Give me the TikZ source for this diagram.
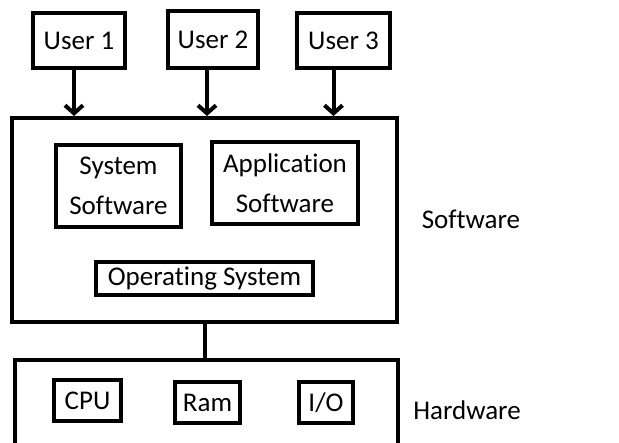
\documentclass[tikz,border=0pt]{standalone}
\usepackage{fontspec}
\setmainfont{Carlito}[Ligatures={NoCommon}]
\usetikzlibrary{arrows.meta}
\begin{document}
\begin{tikzpicture}[x=1pt,y=-1pt,
  every node/.style={font=\fontsize{27}{40}\selectfont, text=black, inner sep=0pt},
  box/.style={draw, line width=4pt, rectangle, align=center},
  conn/.style={line width=4pt},
  arr/.style={conn, -{Straight Barb[length=8pt,width=18pt,line width=4pt]}}]
\useasboundingbox (0,0) rectangle (619,443);
\clip (0,0) rectangle (619,443);
\fill[white] (0,0) rectangle (619,443);
% users
\node[box, minimum width=92pt, minimum height=55pt] (u1) at (79,40.5) {User 1};
\node[box, minimum width=90pt, minimum height=57pt] (u2) at (213,39.5) {User 2};
\node[box, minimum width=93pt, minimum height=55pt] (u3) at (343.5,40.5) {User 3};
% software
\node[box, minimum width=385pt, minimum height=204pt] (sw) at (204.5,220) {};
\node[box, minimum width=125pt, minimum height=82pt] (sys) at (118.5,186) {System\\Software};
\node[box, minimum width=146pt, minimum height=82pt] (app) at (285,183) {Application\\Software};
\node[box, minimum width=217pt, minimum height=33pt] (os) at (204.5,278.5) {Operating System};
\node (swl) at (471,219) {Software};
% hardware
\node[box, minimum width=383pt, minimum height=120pt] (hw) at (206.5,420) {};
\node[box, minimum width=67pt, minimum height=41pt] (cpu) at (87.5,400.5) {CPU};
\node[box, minimum width=65pt, minimum height=41pt] (ram) at (207.5,402.5) {Ram};
\node[box, minimum width=54pt, minimum height=41pt] (io) at (326,402.5) {I/O};
\node (hwl) at (467,410) {Hardware};
% connectors
\draw[arr] ([xshift=-5pt]u1.south) -- ([xshift=-5pt]u1.south |- sw.north);
\draw[arr] ([xshift=-6pt]u2.south) -- ([xshift=-6pt]u2.south |- sw.north);
\draw[arr] ([xshift=-10pt]u3.south) -- ([xshift=-10pt]u3.south |- sw.north);
\draw[conn] (sw.south) -- (sw.south |- hw.north);
\end{tikzpicture}
\end{document}
